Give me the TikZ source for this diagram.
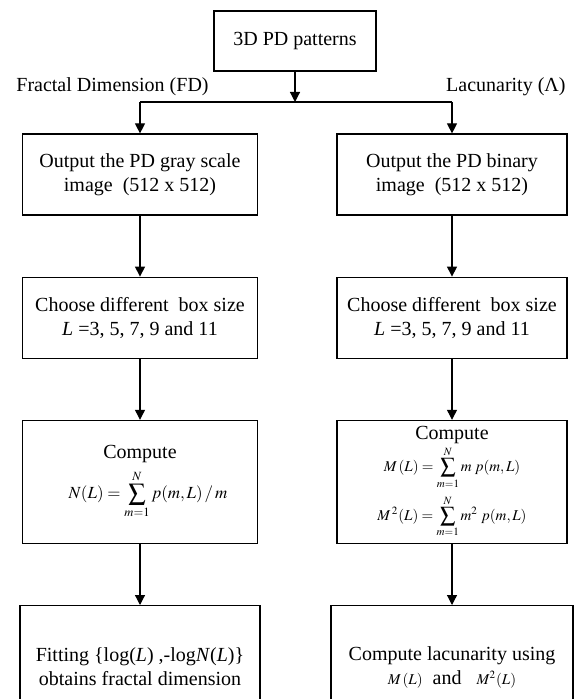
\documentclass[tikz,border=0pt]{standalone}
\usepackage{mathptmx}
\usepackage[no-math]{fontspec}
\setmainfont{Liberation Serif}
\usetikzlibrary{positioning,arrows.meta}
\newcommand{\eqsize}{\fontsize{8.5}{10}\selectfont}
\newcommand{\eqsmall}{\fontsize{7.5}{9}\selectfont}
\tikzset{
  box/.style={draw, line width=0.6pt, align=center, minimum width=#1, minimum height=40.5pt, inner sep=2pt, font=\fontsize{10}{12}\selectfont},
  box/.default={117.5pt},
  tallbox/.style={box=#1, minimum height=61.5pt},
  tallbox/.default={117.5pt},
  arrow/.style={-{Triangle[length=5pt,width=5pt]}, line width=0.6pt},
  lbl/.style={font=\fontsize{10}{12}\selectfont, inner sep=0pt}
}

\begin{document}
\begin{tikzpicture}[x=0.5pt, y=-0.5pt]
    \useasboundingbox (0,0) rectangle (573,699);
    \node[box=81pt, minimum height=30pt] (src) at (295,41) {3D PD patterns};
    \coordinate (split) at (295,102);
    \node[lbl, anchor=west] (fdlbl) at (16,87) {Fractal Dimension (FD)};
    \node[lbl, anchor=east] (laclbl) at (566,87) {Lacunarity (Λ)};
    % fractal dimension branch
    \node[box] (fd1) at (140,174.5) {Output the PD gray scale\\ image\ \ (512 x 512)};
    \node[box, below=30.5pt of fd1] (fd2) {Choose different\ \ box size\\ \textit{L} =3, 5, 7, 9 and 11};
    \node[tallbox, below=30.5pt of fd2] (fd3) {Compute\\[3pt] \hspace*{8pt}{\eqsize$\displaystyle N(L)=\sum_{m=1}^{N} p(m,L)\,/\,m$}};
    \node[tallbox=120pt, below=30.5pt of fd3] (fd4) {Fitting \{log(\textit{L}) ,-log\textit{N}(\textit{L})\}\\ obtains fractal dimension};
    % lacunarity branch
    \node[box=115pt] (lac1) at (452,174.5) {Output the PD binary\\ image\ \ (512 x 512)};
    \node[box=115pt, below=30.5pt of lac1] (lac2) {Choose different\ \ box size\\ \textit{L} =3, 5, 7, 9 and 11};
    \node[tallbox=115pt, below=30.5pt of lac2] (lac3) {Compute\\[0.5pt] {\eqsmall$\displaystyle M\,(L)=\sum_{m=1}^{N} m\; p(m,L)$}\\[2.5pt] {\eqsmall$\displaystyle M^{\,2}(L)=\sum_{m=1}^{N} m^{2}\; p(m,L)$}};
    \node[tallbox=121pt, below=30.5pt of lac3] (lac4) {Compute lacunarity using\\ {\eqsmall$M\,(L)$}\ \ and\ \ \ {\eqsmall$M^{2}(L)$}};
    \draw[arrow] (src) -- (split);
    \draw[line width=0.6pt] (fd1.north |- split) -- (lac1.north |- split);
    \draw[arrow] (fd1.north |- split) -- (fd1);
    \draw[arrow] (lac1.north |- split) -- (lac1);
    \draw[arrow] (fd1) -- (fd2);
    \draw[arrow] (fd2) -- (fd3);
    \draw[arrow] (fd3) -- (fd4);
    \draw[arrow] (lac1) -- (lac2);
    \draw[arrow] (lac2) -- (lac3);
    \draw[arrow] (lac3) -- (lac4);
\end{tikzpicture}
\end{document}
